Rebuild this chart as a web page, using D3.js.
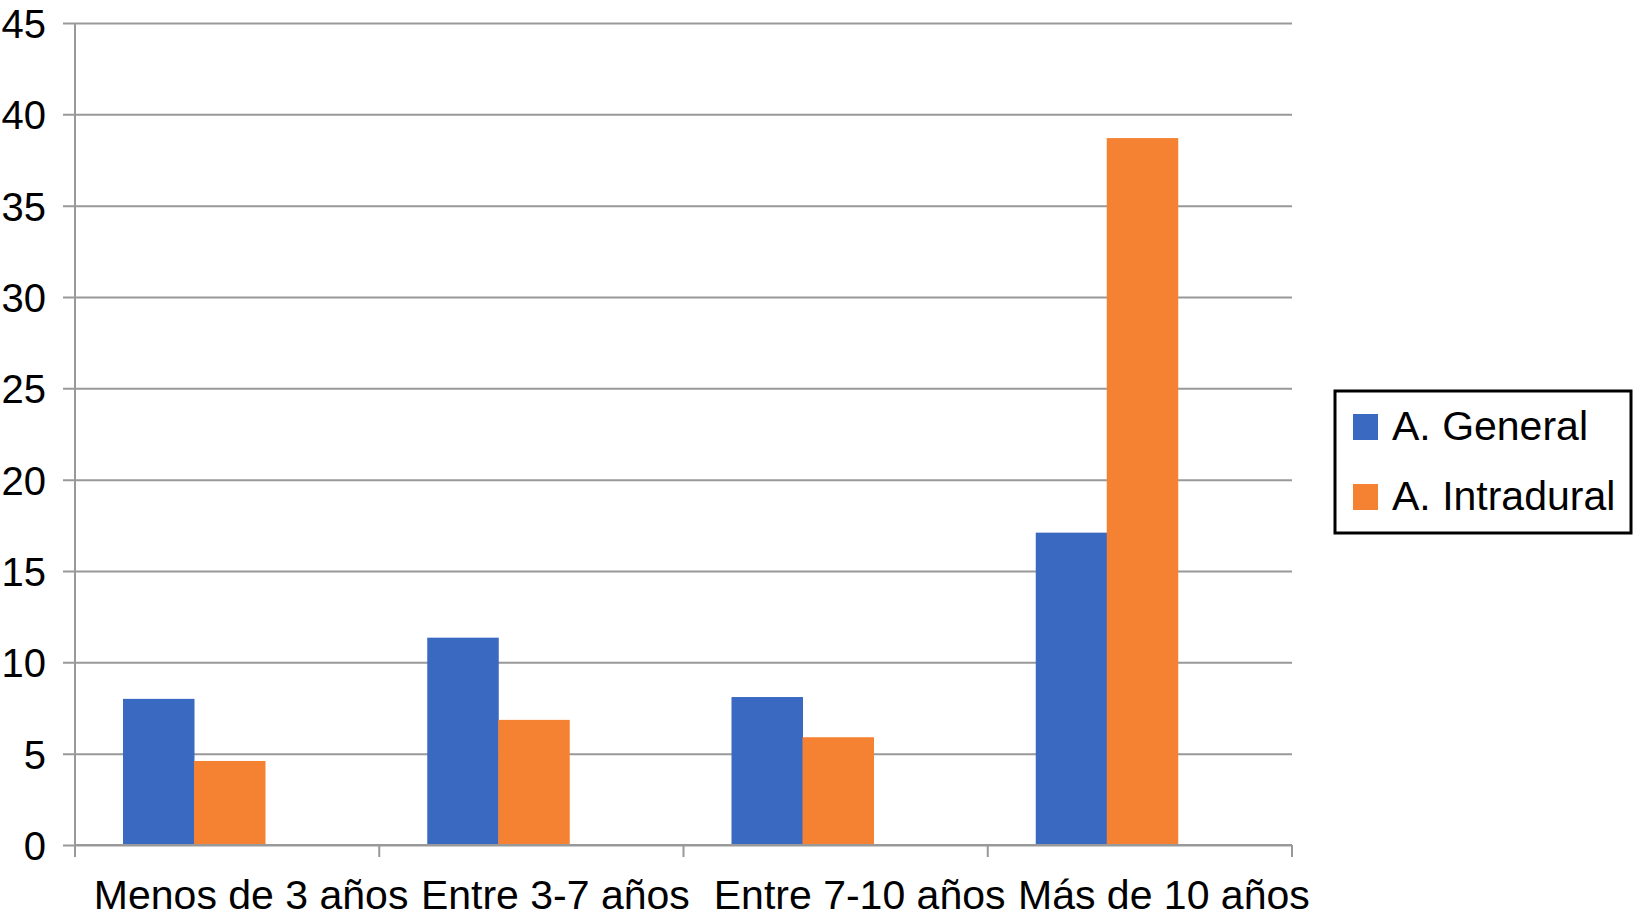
<!DOCTYPE html>
<html>
<head>
<meta charset="utf-8">
<script src="https://cdn.jsdelivr.net/npm/d3@7"></script>
<style>
  body { margin: 0; background: #fff; }
  text { font-family: Helvetica, Arial, "Liberation Sans", sans-serif; fill: #000; }
</style>
</head>
<body>
<div id="chart"></div>
<script>
const categories = ["Menos de 3 años", "Entre 3-7 años", "Entre 7-10 años", "Más de 10 años"];
const seriesNames = ["A. General", "A. Intradural"];
const generalValues = [8.0, 11.35, 8.1, 17.1];
const intraduralValues = [4.6, 6.85, 5.9, 38.7];
const yTicks = [0, 5, 10, 15, 20, 25, 30, 35, 40, 45];
const colors = ["#3a69c2", "#f58233"];

const width = 1634, height = 917;
const plot = { left: 75, right: 1292, top: 23, bottom: 845 };

let svg = d3.select("#chart")
    .append("svg")
    .attr("width", width)
    .attr("height", height);

let x0 = d3.scaleBand()
    .domain(categories)
    .range([plot.left, plot.right]);

// bars sit left of the band centre, as in the original
let x1 = d3.scaleBand()
    .domain(seriesNames)
    .range([48, 190]);

let y = d3.scaleLinear()
    .domain([0, 45])
    .range([plot.bottom, plot.top]);

// gridlines + y labels
let yAxis = svg.append("g")
    .attr("transform", `translate(${plot.left - 12}, 0)`)
    .call(d3.axisLeft(y).tickValues(yTicks).tickSize(-(plot.right - plot.left + 12)).tickPadding(17));
yAxis.select(".domain").remove();
yAxis.selectAll(".tick line").attr("stroke", "#999").attr("stroke-width", 2);
yAxis.selectAll(".tick text").style("font-size", "40px").attr("dy", "0.36em");

// vertical axis line
svg.append("line")
    .attr("x1", plot.left).attr("x2", plot.left)
    .attr("y1", y(45)).attr("y2", y(0))
    .attr("stroke", "#999").attr("stroke-width", 2);

let table = categories.map((c, i) => ({ cat: c, values: [generalValues[i], intraduralValues[i]] }));

let groups = svg.selectAll("g.cat")
    .data(table)
    .enter()
    .append("g")
    .attr("class", "cat")
    .attr("transform", d => `translate(${x0(d.cat)}, 0)`);

groups.selectAll("rect")
    .data(d => d.values.map((v, j) => ({ name: seriesNames[j], value: v, color: colors[j] })))
    .enter()
    .append("rect")
    .attr("x", d => x1(d.name))
    .attr("y", d => y(d.value))
    .attr("width", x1.bandwidth() + 0.5)
    .attr("height", d => y(0) - y(d.value))
    .attr("fill", d => d.color);

// x axis: baseline, boundary ticks, labels
svg.append("line")
    .attr("x1", plot.left).attr("x2", plot.right)
    .attr("y1", y(0)).attr("y2", y(0))
    .attr("stroke", "#999").attr("stroke-width", 2);

let bounds = categories.map(c => x0(c)).concat([plot.right]);
svg.selectAll("line.bound")
    .data(bounds)
    .enter()
    .append("line")
    .attr("class", "bound")
    .attr("x1", d => d).attr("x2", d => d)
    .attr("y1", y(0)).attr("y2", y(0) + 12)
    .attr("stroke", "#999").attr("stroke-width", 2);

svg.selectAll("text.cat-label")
    .data(categories)
    .enter()
    .append("text")
    .attr("class", "cat-label")
    .attr("x", d => x0(d) + x0.bandwidth() / 2 + 24)
    .attr("y", 909)
    .style("text-anchor", "middle")
    .style("font-size", "41px")
    .text(d => d);

// legend
let legend = svg.append("g");
legend.append("rect")
    .attr("x", 1335).attr("y", 391)
    .attr("width", 296).attr("height", 142)
    .attr("fill", "#fff")
    .attr("stroke", "#000").attr("stroke-width", 3);

let items = legend.selectAll("g.item")
    .data(seriesNames)
    .enter()
    .append("g")
    .attr("transform", (d, i) => `translate(1353, ${414 + i * 70})`);

items.append("rect")
    .attr("width", 25).attr("height", 26)
    .attr("fill", (d, i) => colors[i]);

items.append("text")
    .attr("x", 39).attr("y", 26)
    .style("font-size", "41px")
    .text(d => d);
</script>
</body>
</html>
